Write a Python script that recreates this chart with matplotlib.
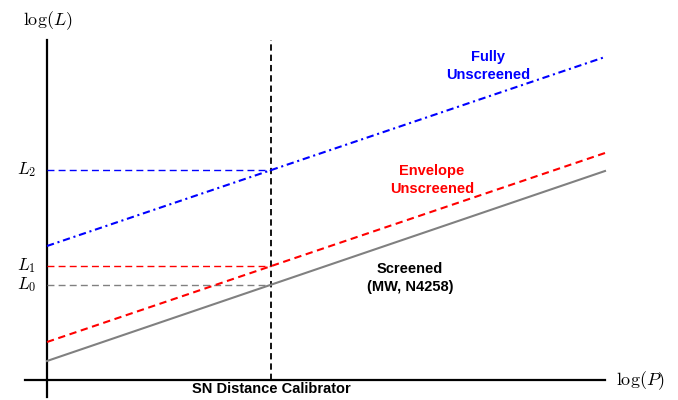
import matplotlib
matplotlib.use("Agg")
import matplotlib.pyplot as plt

plt.rcParams['mathtext.fontset'] = 'cm'

# Data (arbitrary schematic units)
logP_ends = [0, 558]
fully_unscreened = [134, 323]
envelope_unscreened = [38, 227]
screened = [19, 209]
calib_x = 224
L_levels = {'L_2': 210, 'L_1': 114, 'L_0': 95}
L_colors = {'L_2': 'blue', 'L_1': 'red', 'L_0': 'gray'}

fig = plt.figure(figsize=(6.78, 4.0), dpi=100)
ax = fig.add_axes([0, 0, 1, 1])
ax.set_xlim(-47, 631)
ax.set_ylim(-20, 380)
ax.axis('off')

# axes lines
ax.plot([-22, 558], [0, 0], color='black', lw=1.6)
ax.plot([0, 0], [-17, 340], color='black', lw=1.6)

# calibrator vertical line
ax.plot([calib_x, calib_x], [0, 340], color='black', lw=1.3, ls=(0, (3.5, 2.2)))

# horizontal L lines
for k, v in L_levels.items():
    ax.plot([0, calib_x], [v, v], color=L_colors[k], lw=1.0, ls=(0, (5, 3)))
    ax.text(-11, v, r'$%s$' % k, ha='right', va='center', fontsize=12.5)

ax.plot(logP_ends, screened, color='gray', lw=1.5)
ax.plot(logP_ends, envelope_unscreened, color='red', lw=1.5, ls=(0, (3.5, 2.2)))
ax.plot(logP_ends, fully_unscreened, color='blue', lw=1.5, ls=(0, (3.5, 1.8, 1, 1.8)))

ax.text(1, 359, r'$\log(L)$', ha='center', va='center', fontsize=13)
ax.text(593, -1, r'$\log(P)$', ha='center', va='center', fontsize=13)

bold = dict(fontfamily='Liberation Sans', fontweight='bold', fontsize=10.5, ha='center', va='center', linespacing=1.35)
ax.text(441, 314, 'Fully\nUnscreened', color='blue', **bold)
ax.text(385, 200, 'Envelope\nUnscreened', color='red', **bold)
ax.text(363, 102, 'Screened\n(MW, N4258)', color='black', **bold)
ax.text(calib_x, -9, 'SN Distance Calibrator', color='black', **bold)

fig.savefig('out.png', dpi=100)
